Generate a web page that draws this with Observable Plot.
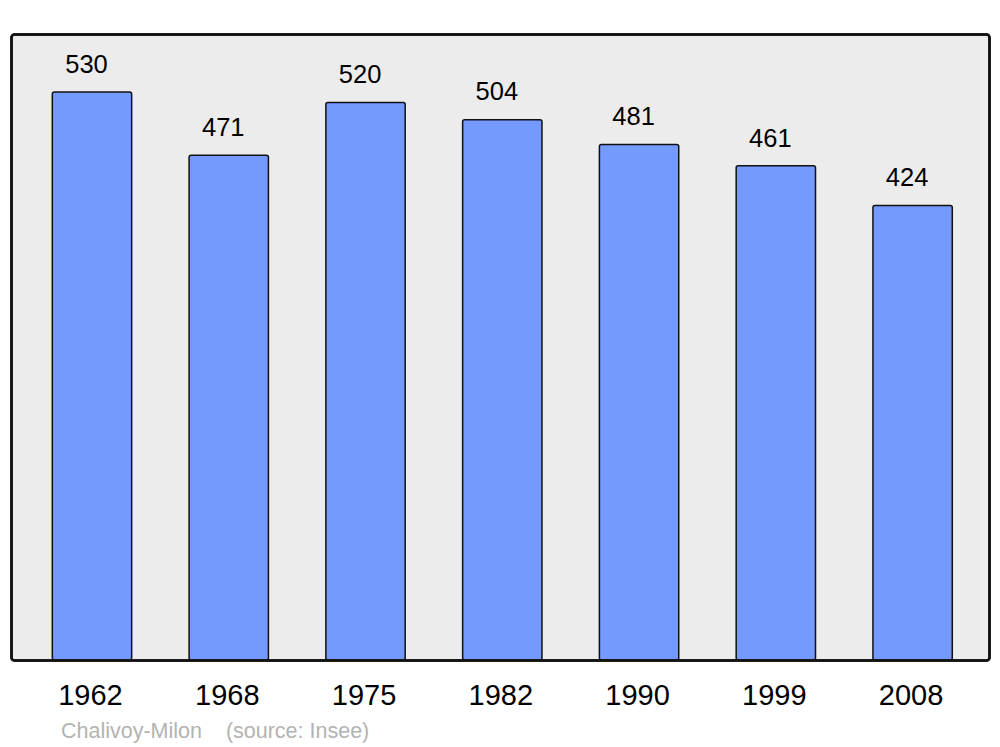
<!DOCTYPE html>
<html>
<head>
<meta charset="utf-8">
<script src="https://cdn.jsdelivr.net/npm/d3@7"></script>
<script src="https://cdn.jsdelivr.net/npm/@observablehq/plot@0.6"></script>
<style>
  html, body { margin: 0; padding: 0; background: #fff; }
  #wrap { position: relative; width: 1000px; height: 747px; }
  #caption { position: absolute; left: 61px; top: 719px; font-family: "Liberation Sans", Arial, sans-serif; font-size: 21.5px; color: #b3b3b3; white-space: pre; }
</style>
</head>
<body>
<div id="wrap"><div id="caption"></div></div>
<script>
const years = ["1962", "1968", "1975", "1982", "1990", "1999", "2008"];
const population = [530, 471, 520, 504, 481, 461, 424];
const caption = "Chalivoy-Milon    (source: Insee)";

const data = years.map((y, i) => ({year: y, pop: population[i]}));

const chart = Plot.plot({
  width: 1000,
  height: 747,
  marginTop: 34,
  marginBottom: 87,
  marginLeft: 11,
  marginRight: 11,
  style: {fontFamily: "'Liberation Sans', Arial, sans-serif", background: "transparent"},
  x: {domain: years, paddingInner: 0.42, paddingOuter: 0.21, round: false, insetLeft: 12.6, insetRight: 8, label: null},
  y: {domain: [0, 584], axis: null},
  marks: [
    Plot.frame({fill: "#ececec", stroke: "#111", strokeWidth: 2.5, rx: 3}),
    Plot.barY(data, {x: "year", y: "pop", fill: "#7499ff", stroke: "#111", strokeWidth: 1.5, rx: 2}),
    Plot.text(data, {x: "year", y: "pop", text: d => String(d.pop), dy: -28, dx: -6, fontSize: 25.5, fill: "#000"}),
    Plot.axisX({tickSize: 0, tickPadding: 24, dx: -2, fontSize: 29, fill: "#000", label: null}),
    Plot.frame({stroke: "#111", strokeWidth: 2.5, rx: 3})
  ]
});
document.getElementById("wrap").prepend(chart);
chart.style.position = "absolute";
chart.style.left = "0";
chart.style.top = "0";
document.getElementById("caption").textContent = caption;
</script>
</body>
</html>
